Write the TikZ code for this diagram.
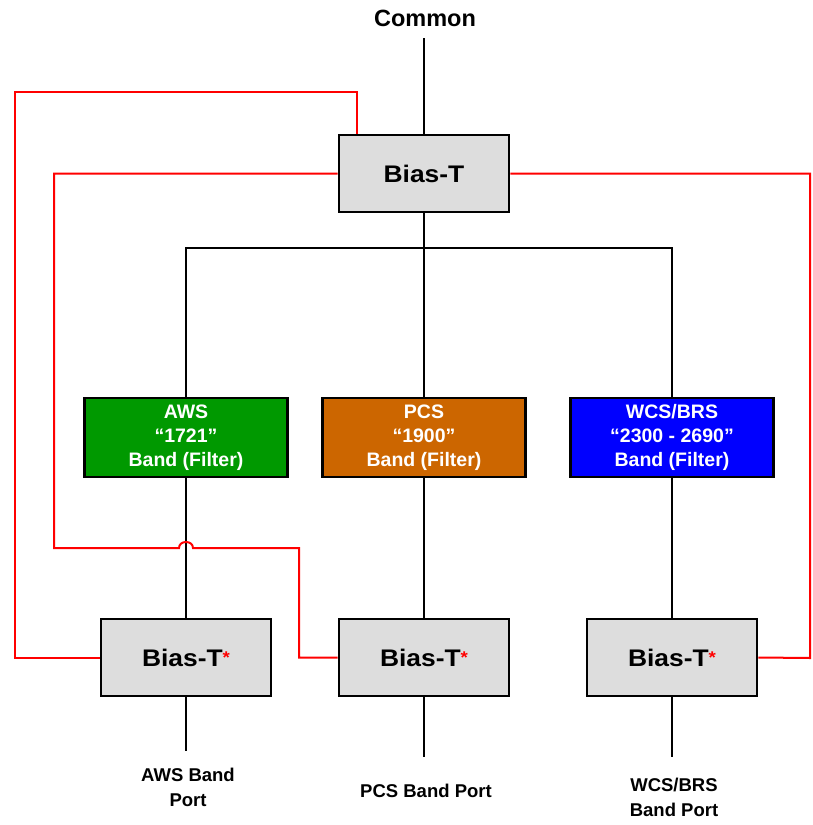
\documentclass[tikz,border=0pt]{standalone}
\usepackage{fontspec}
\setmainfont{Liberation Sans}
\newfontfamily\widefont{Liberation Sans}[FakeStretch=1.1]
\definecolor{awsgreen}{HTML}{009900}
\definecolor{pcsorange}{HTML}{CC6600}
\definecolor{wcsblue}{HTML}{0000FF}
\definecolor{boxgray}{HTML}{DDDDDD}
\newcommand{\redstar}{{\color{red}\fontsize{17}{17}\selectfont\raisebox{2.5pt}{*}}}
\begin{document}
\begin{tikzpicture}[x=1pt,y=-1pt,
  biasbox/.style={draw=black, line width=2.6pt, fill=boxgray, minimum width=170pt, minimum height=77pt, inner sep=0pt, font=\widefont\bfseries\fontsize{24}{26}\selectfont},
  filt/.style={draw=black, line width=2.6pt, minimum width=203pt, minimum height=79pt, inner sep=0pt, text=white, align=center, font=\bfseries\fontsize{19.5}{24}\selectfont},
  wire/.style={line width=2pt, black},
  rwire/.style={line width=2pt, red},
  lbl/.style={align=center, font=\bfseries\fontsize{18.5}{25}\selectfont}]
\useasboundingbox (0,0) rectangle (812,825);
% nodes
\node[font=\bfseries\fontsize{23.5}{26}\selectfont] (common) at (425,18) {Common};
\coordinate (c0) at (424,38);
\node[biasbox] (top) at (424,173.5) {Bias-T};
\coordinate (bus) at (424,248);
\node[filt, fill=awsgreen] (aws) at (186,437.5) {AWS\\“1721”\\Band (Filter)};
\node[filt, fill=pcsorange] (pcs) at (424,437.5) {PCS\\“1900”\\Band (Filter)};
\node[filt, fill=wcsblue] (wcs) at (672,437.5) {WCS/BRS\\“2300 - 2690”\\Band (Filter)};
\node[biasbox] (b1) at (186,657.5) {Bias-T\redstar};
\node[biasbox] (b2) at (424,657.5) {Bias-T\redstar};
\node[biasbox] (b3) at (672,657.5) {Bias-T\redstar};
\coordinate (p1) at (186,751);
\coordinate (p2) at (424,757);
\coordinate (p3) at (672,757);
\node[lbl] (l1) at (188,787) {AWS Band\\Port};
\node[lbl] (l2) at (426,791) {PCS Band Port};
\node[lbl] (l3) at (674,797) {WCS/BRS\\Band Port};
% black wires
\draw[wire] (c0) -- (top.north);
\draw[wire] (top.south) -- (bus) -- (pcs.north);
\draw[wire] (aws.north) |- (bus) -| (wcs.north);
\draw[wire] (aws.south) -- (b1.north);
\draw[wire] (pcs.south) -- (b2.north);
\draw[wire] (wcs.south) -- (b3.north);
\draw[wire] (b1.south) -- (p1);
\draw[wire] (b2.south) -- (p2);
\draw[wire] (b3.south) -- (p3);
% red wires
\draw[rwire] ([xshift=-67pt]top.north) |- (15,92) |- (b1.west);
\draw[rwire] (top.west) -| (54,548) -- (179,548) .. controls (179,540) and (193,540) .. (193,548) -- (299,548) |- (b2.west);
\draw[rwire] (top.east) -| (810,658) -- (b3.east);
\end{tikzpicture}
\end{document}
